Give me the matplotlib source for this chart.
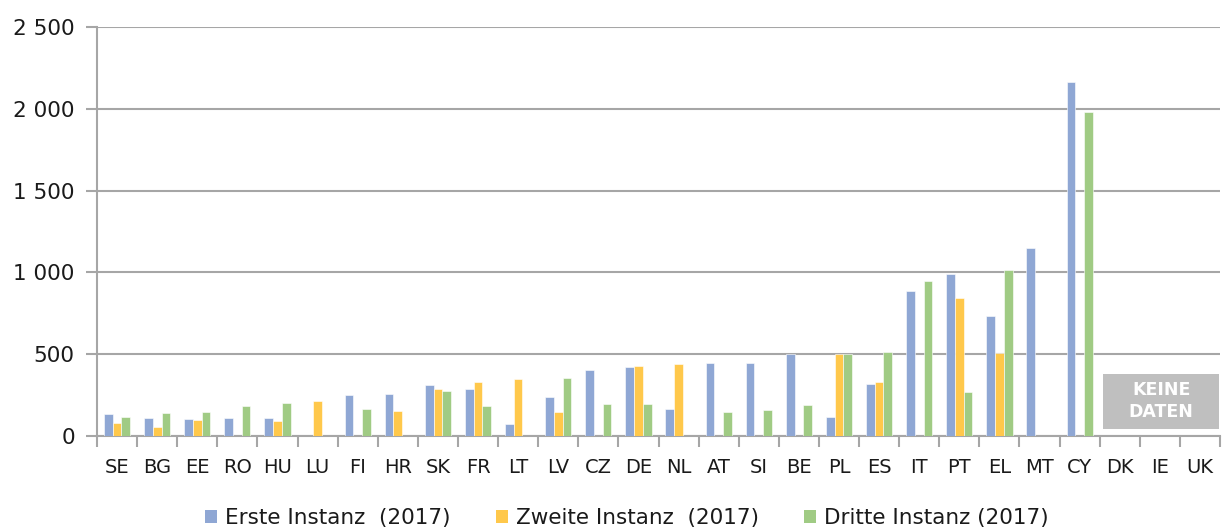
import matplotlib
matplotlib.use("Agg")
import matplotlib.pyplot as plt
import numpy as np
from matplotlib.ticker import FuncFormatter, FixedLocator
from matplotlib.patches import Patch

countries = ["SE", "BG", "EE", "RO", "HU", "LU", "FI", "HR", "SK", "FR", "LT", "LV",
             "CZ", "DE", "NL", "AT", "SI", "BE", "PL", "ES", "IT", "PT", "EL", "MT",
             "CY", "DK", "IE", "UK"]

# NaN = no data for that instance
erste = [132, 112, 106, 112, 112, np.nan, 253, 257, 314, 285, 71, 236,
         406, 420, 163, 444, 448, 499, 118, 320, 888, 988, 736, 1147,
         2165, np.nan, np.nan, np.nan]
zweite = [78, 57, 98, np.nan, 90, 212, np.nan, 151, 290, 332, 351, 149,
          np.nan, 428, 442, np.nan, np.nan, np.nan, 500, 328, np.nan, 841, 507, np.nan,
          np.nan, np.nan, np.nan, np.nan]
dritte = [118, 140, 149, 181, 200, np.nan, 167, np.nan, 273, 181, np.nan, 357,
          198, 194, np.nan, 145, 157, 192, 502, 513, 949, 267, 1014, np.nan,
          1980, np.nan, np.nan, np.nan]

series_labels = ["Erste Instanz  (2017)", "Zweite Instanz  (2017)", "Dritte Instanz (2017)"]
colors = ["#8FA7D4", "#FFC84B", "#A0CB84"]
no_data_text = "KEINE\nDATEN"

W, H = 1223, 531
fig = plt.figure(figsize=(W / 100, H / 100), dpi=100)
ax = fig.add_axes([97 / W, 1 - 436 / H, (1220 - 97) / W, (436 - 27) / H])

x = np.arange(len(countries))
bw = 0.218
for i, (vals, col) in enumerate(zip([erste, zweite, dritte], colors)):
    v = np.array(vals, dtype=float)
    ok = ~np.isnan(v)
    ax.bar(x[ok] + (i - 1) * bw, v[ok], width=bw, color=col,
           edgecolor="white", linewidth=0.4, zorder=3)

ax.set_xlim(-0.5, len(countries) - 0.5)
ax.set_ylim(0, 2500)
ax.set_yticks([0, 500, 1000, 1500, 2000, 2500])
ax.yaxis.set_major_formatter(FuncFormatter(lambda v, p: f"{int(v):,}".replace(",", " ")))
ax.yaxis.grid(True, color="#A6A6A6", linewidth=1.5, zorder=0)
ax.set_axisbelow(True)

ax.set_xticks(x)
ax.set_xticklabels(countries)
ax.tick_params(axis="x", which="major", length=0, labelsize=14, pad=16, colors="#1a1a1a")
ax.xaxis.set_minor_locator(FixedLocator(np.arange(-0.5, len(countries), 1.0)))
ax.tick_params(axis="x", which="minor", length=8, width=1.5, color="#A6A6A6")
ax.tick_params(axis="y", length=8, width=1.5, color="#A6A6A6", labelsize=15.5,
               labelcolor="#1a1a1a", pad=8)

for s in ["top", "right"]:
    ax.spines[s].set_visible(False)
for s in ["left", "bottom"]:
    ax.spines[s].set_color("#A6A6A6")
    ax.spines[s].set_linewidth(1.5)

# grey "no data" box covering DK, IE, UK
xs = countries.index("DK") - 0.5 + 0.09
bw_box = 2.89
ax.add_patch(plt.Rectangle((xs, 45), bw_box, 335, facecolor="#BFBFBF",
                           edgecolor="none", zorder=4, clip_on=False))
ax.text(xs + bw_box / 2, 45 + 335 / 2, no_data_text, ha="center", va="center",
        color="white", fontsize=12.5, fontweight="semibold", zorder=5, linespacing=1.3)

handles = [Patch(facecolor=c, edgecolor="none") for c in colors]
fig.legend(handles, series_labels, loc="center", bbox_to_anchor=(627 / W, 1 - 518 / H),
           ncol=3, frameon=False, fontsize=15.5, handlelength=0.56, handleheight=0.56,
           handletextpad=0.37, columnspacing=2.1, labelcolor="#1a1a1a")

fig.savefig("out.png", dpi=100)
